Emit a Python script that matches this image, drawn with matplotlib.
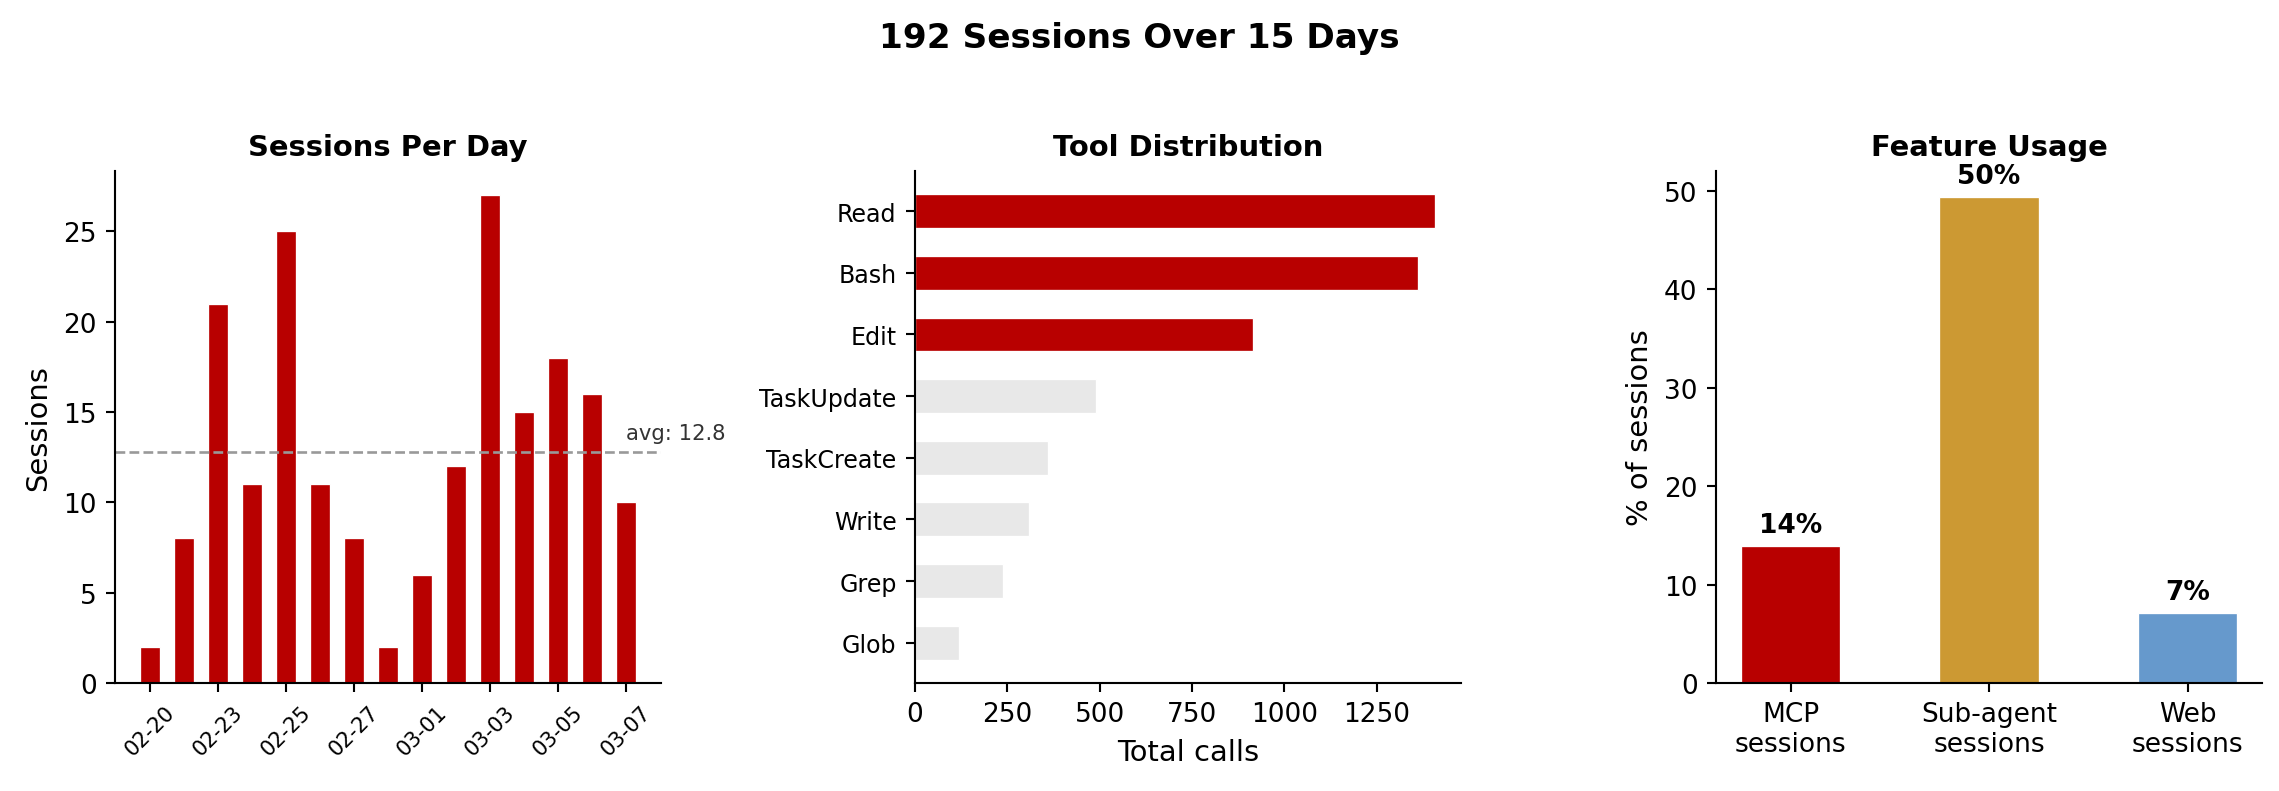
import matplotlib
matplotlib.use('Agg')
import matplotlib.pyplot as plt
import numpy as np

# sessions per day
days = ['02-20', '02-22', '02-23', '02-24', '02-25', '02-26', '02-27', '02-28',
        '03-01', '03-02', '03-03', '03-04', '03-05', '03-06', '03-07']
sessions = [2, 8, 21, 11, 25, 11, 8, 2, 6, 12, 27, 15, 18, 16, 10]

# tool distribution (top to bottom)
tools = ['Read', 'Bash', 'Edit', 'TaskUpdate', 'TaskCreate', 'Write', 'Grep', 'Glob']
calls = [1408, 1362, 915, 489, 360, 309, 239, 119]
n_highlight = 3

# feature usage
features = ['MCP\nsessions', 'Sub-agent\nsessions', 'Web\nsessions']
feature_pct = [13.9, 49.4, 7.1]
feature_labels = ['14%', '50%', '7%']

red = '#b80000'
gray = '#e8e8e8'
feature_colors = [red, '#cc9933', '#6699cc']

dpi = 190
fig = plt.figure(figsize=(2279 / dpi, 792 / dpi), dpi=dpi)
fig.suptitle('%d Sessions Over %d Days' % (sum(sessions), len(sessions)),
             fontsize=13, fontweight='bold', y=0.972)

bottom, height, width = 0.1364, 0.6465, 0.2396

# -- sessions per day --
ax1 = fig.add_axes([0.0505, bottom, width, height])
x = np.arange(len(days))
ax1.bar(x, sessions, width=0.6, color=red, edgecolor='white', linewidth=0.5)
avg = sum(sessions) / len(sessions)
ax1.axhline(avg, color='#999999', linestyle='--', linewidth=1)
ax1.text(len(days) - 1, avg + 0.5, 'avg: %.1f' % avg, fontsize=8, color='#333333',
         ha='left', va='bottom')
ax1.set_xticks(x[::2])
ax1.set_xticklabels(days[::2], rotation=45, fontsize=8)
ax1.set_ylabel('Sessions', fontsize=11)
ax1.set_title('Sessions Per Day', fontsize=11, fontweight='bold')

# -- tool distribution --
ax2 = fig.add_axes([0.4015, bottom, width, height])
y = np.arange(len(tools))
colors = [red if i < n_highlight else gray for i in range(len(tools))]
ax2.barh(y, calls, height=0.55, color=colors, edgecolor='white', linewidth=0.5)
ax2.set_yticks(y)
ax2.set_yticklabels(tools, fontsize=9)
ax2.invert_yaxis()
ax2.set_xlabel('Total calls', fontsize=11)
ax2.set_title('Tool Distribution', fontsize=11, fontweight='bold')

# -- feature usage --
ax3 = fig.add_axes([0.7530, bottom, width, height])
xf = np.arange(len(features))
ax3.bar(xf, feature_pct, width=0.5, color=feature_colors, edgecolor='white', linewidth=0.5)
for xi, v, lab in zip(xf, feature_pct, feature_labels):
    ax3.text(xi, v + 0.8, lab, ha='center', va='bottom', fontsize=10, fontweight='bold')
ax3.set_xticks(xf)
ax3.set_xticklabels(features, fontsize=10)
ax3.set_ylim(0, 52)
ax3.set_ylabel('% of sessions', fontsize=11)
ax3.set_title('Feature Usage', fontsize=11, fontweight='bold')

for ax in (ax1, ax2, ax3):
    ax.spines['top'].set_visible(False)
    ax.spines['right'].set_visible(False)

fig.savefig('out.png', dpi=dpi)
